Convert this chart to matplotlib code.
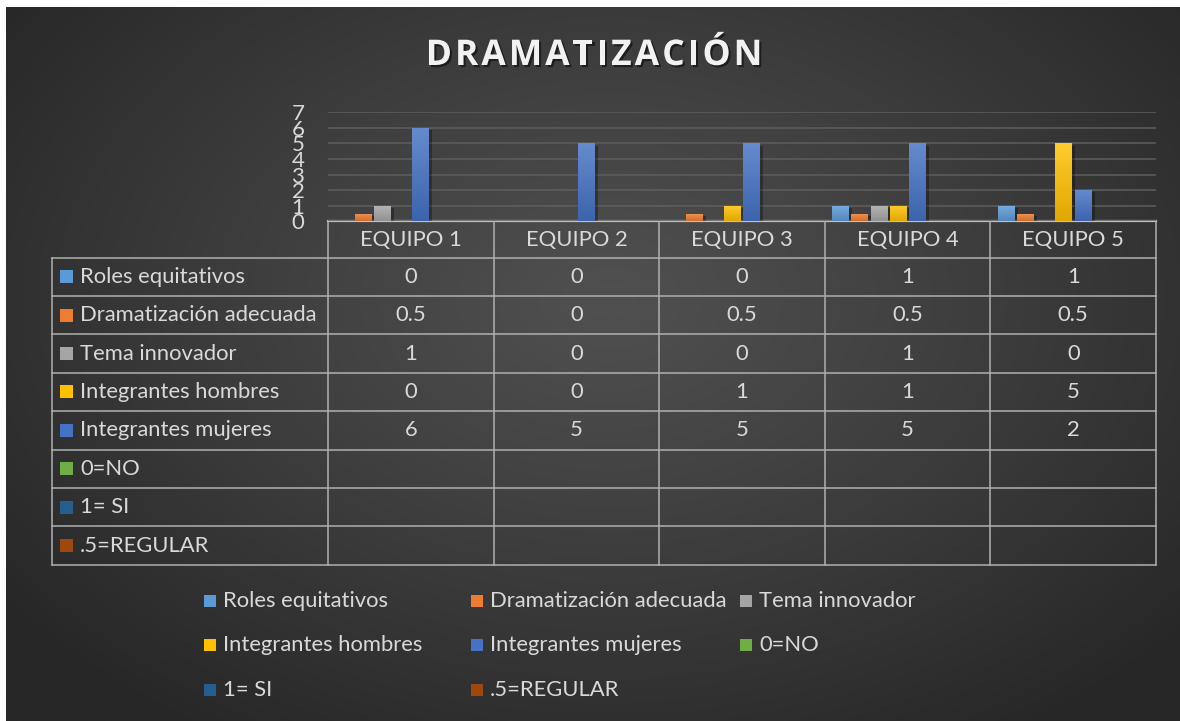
import numpy as np
import matplotlib
matplotlib.use('Agg')
import matplotlib.pyplot as plt
from matplotlib.patches import Rectangle
from matplotlib.colors import LinearSegmentedColormap, to_rgb
import matplotlib.patheffects as pe

# ---------------- data ----------------
categories = ['EQUIPO 1', 'EQUIPO 2', 'EQUIPO 3', 'EQUIPO 4', 'EQUIPO 5']
series_names = ['Roles equitativos', 'Dramatización adecuada', 'Tema innovador',
                'Integrantes hombres', 'Integrantes mujeres', '0=NO', '1= SI', '.5=REGULAR']
roles = [0, 0, 0, 1, 1]
dramatizacion = [0.5, 0, 0.5, 0.5, 0.5]
tema = [1, 0, 0, 1, 0]
hombres = [0, 0, 1, 1, 5]
mujeres = [6, 5, 5, 5, 2]
cero_no = [None, None, None, None, None]
uno_si = [None, None, None, None, None]
regular = [None, None, None, None, None]
series_values = [roles, dramatizacion, tema, hombres, mujeres, cero_no, uno_si, regular]
colors = ['#5B9BD5', '#ED7D31', '#A5A5A5', '#FFC000', '#4472C4', '#70AD47', '#255E91', '#9E480E']
yticks = [0, 1, 2, 3, 4, 5, 6, 7]
title = 'DRAMATIZACIÓN'

FONT = 'Lato'
FS = 15.8
TXT = '#D9D9D9'
LINE = '#B0B0B0'

W, H = 1180, 721
fig = plt.figure(figsize=(W / 100, H / 100), dpi=100)
fig.patch.set_facecolor('white')

# background overlay (pixel coordinates, y downward)
bg = fig.add_axes([0, 0, 1, 1], zorder=0)
bg.set_xlim(0, W)
bg.set_ylim(H, 0)
bg.axis('off')

ny, nx = 240, 400
yy, xx = np.mgrid[0:ny, 0:nx]
px = 6 + xx / (nx - 1) * (W - 6)
py = 7 + yy / (ny - 1) * (H - 7)
dx = (px - 610) / 760
dy = (py - 300) / 520
r = np.clip(np.sqrt(dx ** 2 + dy ** 2), 0, 1)
v = (0x50 - (0x50 - 0x27) * r ** 1.1) / 255.0
img = np.dstack([v, v, v])
bg.imshow(img, extent=(6, W, H, 7), aspect='auto', interpolation='bilinear', zorder=0)
bg.set_xlim(0, W)
bg.set_ylim(H, 0)

# main axes
ax_top, ax_bot = 112.3, 221.3
ax_left, ax_right = 328, 1156
ax = fig.add_axes([ax_left / W, 1 - ax_bot / H, (ax_right - ax_left) / W, (ax_bot - ax_top) / H], zorder=2)
ax.set_facecolor('none')
for s in ax.spines.values():
    s.set_visible(False)
ax.set_xlim(-0.5, len(categories) - 0.5)
ax.set_ylim(0, 7)
ax.set_yticks(yticks)
ax.set_yticklabels([str(t) for t in yticks], fontfamily=FONT, fontsize=16, color=TXT)
ax.tick_params(axis='y', length=0, pad=17)
ax.set_xticks([])
ax.yaxis.grid(True, color='#5E5E5E', lw=1.1)
ax.set_axisbelow(True)

n = len(series_names)
slot = 0.1158
width = 0.0997
x = np.arange(len(categories))
for i, (vals, c) in enumerate(zip(series_values, colors)):
    if all(vv is None for vv in vals):
        continue
    h = np.array([np.nan if vv is None else vv for vv in vals], dtype=float)
    xs = x + (i - (n - 1) / 2) * slot
    bars = ax.bar(xs, h, width, color=c, zorder=3, linewidth=0)
    base = np.array(to_rgb(c))
    top = base + (1 - base) * 0.18
    bottom = base * 0.88
    cmap = LinearSegmentedColormap.from_list('g%d' % i, [bottom, top])
    grad = np.linspace(1, 0, 64).reshape(-1, 1)
    for b in bars:
        hh = b.get_height()
        if not np.isfinite(hh) or hh <= 0:
            continue
        b.set_path_effects([pe.SimplePatchShadow(offset=(2.5, -1.5), shadow_rgbFace='black', alpha=0.3), pe.Normal()])
        im = ax.imshow(grad, cmap=cmap, extent=(b.get_x(), b.get_x() + b.get_width(), 0, hh),
                       aspect='auto', zorder=4, vmin=0, vmax=1)
        im.set_clip_path(b)
ax.set_xlim(-0.5, len(categories) - 0.5)
ax.set_ylim(0, 7)

# ---------------- data table ----------------
def xpix(xd):
    disp = ax.transData.transform((xd, 0))
    return bg.transData.inverted().transform(disp)[0]

bounds = [xpix(b - 0.5) for b in range(len(categories) + 1)]
centers = [xpix(b) for b in range(len(categories))]
hdr_top, hdr_bot = ax_bot, 257.5
row_h = 38.4
nrows = len(series_names)
tbl_bot = hdr_bot + nrows * row_h
tbl_left = 52

lw = 1.1
bg.plot([bounds[0], bounds[-1]], [hdr_top, hdr_top], color='#C0C0C0', lw=1.6, zorder=5)
for k in range(nrows + 1):
    yk = hdr_bot + k * row_h
    bg.plot([tbl_left, bounds[-1]], [yk, yk], color=LINE, lw=lw, zorder=5)
for bx in bounds:
    bg.plot([bx, bx], [hdr_top, tbl_bot], color=LINE, lw=lw, zorder=5)
bg.plot([tbl_left, tbl_left], [hdr_bot, tbl_bot], color=LINE, lw=lw, zorder=5)

for cx, cat in zip(centers, categories):
    bg.text(cx, (hdr_top + hdr_bot) / 2 + 1, cat, ha='center', va='center',
            fontfamily=FONT, fontsize=FS, color=TXT, zorder=6)

def fmt(vv):
    if vv is None:
        return ''
    if float(vv).is_integer():
        return str(int(vv))
    return str(vv)

for k, (name, vals, c) in enumerate(zip(series_names, series_values, colors)):
    yc = hdr_bot + (k + 0.5) * row_h
    bg.add_patch(Rectangle((60, yc - 6.5), 13, 13, facecolor=c, edgecolor='none', zorder=6))
    bg.text(80, yc, name, ha='left', va='center', fontfamily=FONT, fontsize=FS, color=TXT, zorder=6)
    for cx, vv in zip(centers, vals):
        bg.text(cx, yc, fmt(vv), ha='center', va='center', fontfamily=FONT, fontsize=FS,
                color=TXT, zorder=6)

# ---------------- legend (manual, Excel-like row-major layout) ----------------
leg_cols = [204, 471, 740]
leg_rows = [601, 645, 690]
for k, (name, c) in enumerate(zip(series_names, colors)):
    r_, c_ = divmod(k, 3)
    lx, ly = leg_cols[c_], leg_rows[r_]
    bg.add_patch(Rectangle((lx, ly - 6), 12, 12, facecolor=c, edgecolor='none', zorder=6))
    bg.text(lx + 19, ly, name, ha='left', va='center', fontfamily=FONT, fontsize=FS,
            color=TXT, zorder=6)

# ---------------- title (letter-spaced) ----------------
renderer = fig.canvas.get_renderer()
tprops = dict(fontfamily='Open Sans', fontweight='bold', fontsize=25.5, color='#F2F2F2')
spacing = 3.1
widths = []
for ch in title:
    t = bg.text(0, 0, ch, **tprops)
    widths.append(t.get_window_extent(renderer).width)
    t.remove()
total = sum(widths) + spacing * (len(title) - 1)
cx = 594 - total / 2
for ch, wch in zip(title, widths):
    bg.text(cx, 56, ch, ha='left', va='center', zorder=6,
            path_effects=[pe.withSimplePatchShadow(offset=(1.5, -1.5), shadow_rgbFace='black', alpha=0.5)],
            **tprops)
    cx += wch + spacing

fig.savefig('out.png', dpi=100)
